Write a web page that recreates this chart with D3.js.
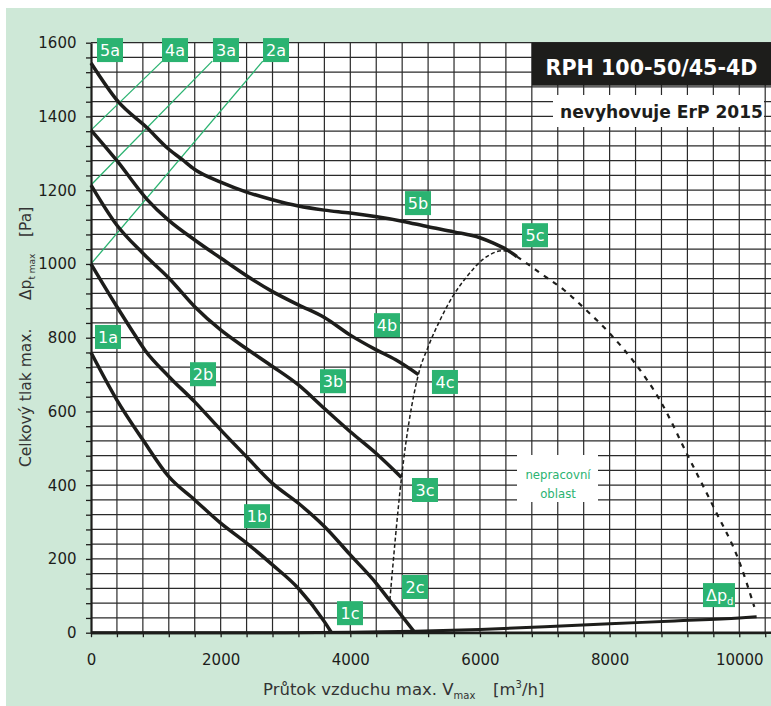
<!DOCTYPE html>
<html><head><meta charset="utf-8">
<script src="https://cdn.jsdelivr.net/npm/d3@7"></script>
<style>body{margin:0;background:#fff}svg{display:block}</style>
</head><body><svg id="c" width="771" height="706"></svg>
<script>
// ---- data ----
const xTicks=[0,2000,4000,6000,8000,10000];
const yTicks=[0,200,400,600,800,1000,1200,1400,1600];
const curve1=[[0,760],[400,631],[800,523],[1200,423],[1600,360],[2000,297],[2400,243],[2800,184],[3200,120],[3600,30],[3710,0]];
const curve2=[[0,1000],[400,884],[627,821],[833,766],[1200,695],[1600,626],[2000,550],[2400,477],[2800,405],[3200,351],[3600,288],[4000,211],[4400,134],[4600,89],[4980,4]];
const curve3=[[0,1214],[400,1105],[800,1029],[1200,962],[1600,884],[2000,821],[2400,770],[2800,722],[3200,672],[3600,608],[4000,545],[4400,486],[4790,421]];
const curve4=[[0,1363],[400,1280],[860,1176],[1200,1118],[1600,1065],[2000,1016],[2400,968],[2800,925],[3200,889],[3600,855],[4000,807],[4400,767],[4700,740],[5050,700]];
const curve5=[[0,1545],[420,1440],[860,1370],[1200,1311],[1400,1284],[1600,1256],[2000,1222],[2400,1195],[2800,1174],[3200,1157],[3600,1146],[4000,1138],[4800,1116],[5200,1101],[5600,1087],[6000,1071],[6200,1057],[6400,1040],[6570,1020]];
const limitLeft=[[4610,89],[4790,421],[5050,700],[5200,775],[5385,848],[5590,915],[5795,965],[6051,1013],[6358,1036],[6570,1020]];
const limitRight=[[6570,1020],[6774,995],[6930,975],[7292,930],[7620,878],[8000,812],[8390,731],[8775,631],[9215,477],[9600,342],[10010,188],[10232,70]];
const dynPressure=[[0,0],[3000,0],[4000,1],[5000,4],[6000,9],[7000,16],[8000,24],[9000,32],[10000,40],[10268,43]];
const sys4a=[[0,1363],[1100,1550]];
const sys3a=[[0,1214],[1870,1550]];
const sys2a=[[0,1000],[2650,1550]];
const labelNames=["5a","4a","3a","2a","1a","5b","5c","4b","4c","3b","3c","2b","2c","1b","1c"];
const labelAt=[[293,1580],[1296,1580],[2082,1580],[2854,1580],[262,802],[5044,1165],[6849,1078],[4566,834],[5460,680],[3733,682],[5152,387],[1728,701],[4998,124],[2561,316],[3995,53]];
const dpLabelAt=[9687,102];
const titleText="RPH 100-50/45-4D";
const subText="nevyhovuje ErP 2015";
const regionText=["nepracovní","oblast"];

// ---- drawing ----
const svg=d3.select("#c");
const x=d3.scaleLinear().domain([0,10400]).range([91,765.2]);
const y=d3.scaleLinear().domain([0,1600]).range([632.7,42.7]);
const GREEN="#2bb371", INK="#1d1d1b";

svg.append("rect").attr("x",6).attr("y",8).attr("width",765).attr("height",698).attr("fill","#cee8d7");
svg.append("rect").attr("x",x(0)).attr("y",y(1600)).attr("width",771-x(0)).attr("height",y(0)-y(1600)).attr("fill","#fff");

const grid=svg.append("g").attr("stroke","#2a2a2a").attr("stroke-width",1.2);
grid.selectAll("line.v").data(d3.range(400,10401,400)).join("line")
  .attr("x1",d=>x(d)).attr("x2",d=>x(d)).attr("y1",y(1600)).attr("y2",y(0));
grid.selectAll("line.h").data(d3.range(40,1601,40)).join("line")
  .attr("x1",x(0)).attr("x2",771).attr("y1",d=>y(d)).attr("y2",d=>y(d));

// boxes
svg.append("rect").attr("x",532).attr("y",y(1600)).attr("width",239).attr("height",43).attr("fill","#1d1d1b");
svg.append("text").attr("x",545.5).attr("y",75).attr("fill","#fff")
  .attr("font-family","DejaVu Sans").attr("font-weight","bold").attr("font-size",20.5)
  .attr("textLength",212).attr("lengthAdjust","spacingAndGlyphs").text(titleText);
svg.append("rect").attr("x",553).attr("y",95).attr("width",211).attr("height",32).attr("fill","#fff");
svg.append("text").attr("x",560).attr("y",118).attr("fill",INK)
  .attr("font-family","DejaVu Sans").attr("font-weight","bold").attr("font-size",17)
  .attr("textLength",203).attr("lengthAdjust","spacingAndGlyphs").text(subText);
svg.append("rect").attr("x",517).attr("y",455).attr("width",81).attr("height",47).attr("fill","#fff");
svg.selectAll("text.reg").data(regionText).join("text").attr("class","reg")
  .attr("x",558).attr("y",(d,i)=>479+i*19).attr("text-anchor","middle")
  .attr("font-family","DejaVu Sans Condensed").attr("font-size",13).attr("fill",GREEN).text(d=>d);

// system lines
const line=d3.line().x(d=>x(d[0])).y(d=>y(d[1]));
[sys4a,sys3a,sys2a].forEach(s=>svg.append("path").attr("d",line(s)).attr("fill","none").attr("stroke",GREEN).attr("stroke-width",1.3));

// curves
const smooth=d3.line().x(d=>x(d[0])).y(d=>y(d[1])).curve(d3.curveMonotoneX);
svg.append("path").attr("d",smooth(limitLeft)).attr("fill","none").attr("stroke",INK).attr("stroke-width",1.5).attr("stroke-dasharray","4,2.5");
svg.append("path").attr("d",smooth(limitRight)).attr("fill","none").attr("stroke",INK).attr("stroke-width",2.2).attr("stroke-dasharray","5,6");
[curve1,curve2,curve3,curve4,curve5].forEach(c=>svg.append("path").attr("d",smooth(c)).attr("fill","none")
  .attr("stroke",INK).attr("stroke-width",3.5).attr("stroke-linejoin","round"));
svg.append("path").attr("d",smooth(dynPressure)).attr("fill","none").attr("stroke",INK).attr("stroke-width",3);

// axes
const ax=svg.append("g").attr("transform",`translate(${x(0)},0)`)
  .call(d3.axisLeft(y).tickValues(d3.range(0,1601,40)).tickSize(5).tickSizeOuter(0).tickPadding(9.5)
    .tickFormat(d=>yTicks.includes(d)?d:""));
const bx=svg.append("g").attr("transform",`translate(0,${y(0)})`)
  .call(d3.axisBottom(x).tickValues(d3.range(0,10401,400)).tickSize(4.5).tickSizeOuter(0).tickPadding(17.5)
    .tickFormat(d=>xTicks.includes(d)?d:""));
[ax,bx].forEach(g=>{g.selectAll("text").attr("font-family","DejaVu Sans").attr("font-size",15).attr("fill",INK);
  g.selectAll("line").attr("stroke",INK).attr("stroke-width",1.3);
  g.select(".domain").attr("stroke",INK).attr("stroke-width",2.2);});
svg.append("line").attr("x1",x(0)).attr("x2",771).attr("y1",y(0)).attr("y2",y(0)).attr("stroke",INK).attr("stroke-width",2.6);

// labels
const lab=svg.selectAll("g.lab").data(labelNames).join("g").attr("class","lab")
  .attr("transform",(d,i)=>`translate(${x(labelAt[i][0])},${y(labelAt[i][1])})`);
lab.append("rect").attr("x",-13).attr("y",-12).attr("width",26).attr("height",24).attr("fill",GREEN);
lab.append("text").attr("text-anchor","middle").attr("dy","0.36em").attr("fill","#fff")
  .attr("font-family","DejaVu Sans").attr("font-size",16).text(d=>d);
const dp=svg.append("g").attr("transform",`translate(${x(dpLabelAt[0])},${y(dpLabelAt[1])})`);
dp.append("rect").attr("x",-16).attr("y",-12).attr("width",32).attr("height",24).attr("fill",GREEN);
const dpt=dp.append("text").attr("x",-13).attr("dy","0.36em").attr("fill","#fff").attr("font-family","DejaVu Sans").attr("font-size",16);
dpt.append("tspan").text("Δp");
dpt.append("tspan").attr("font-size",10).attr("dy",4).text("d");

// axis titles
const xt=svg.append("text").attr("x",263).attr("y",695).attr("fill","#333").attr("font-family","DejaVu Sans").attr("font-size",16.5);
xt.append("tspan").text("Průtok vzduchu max. V");
xt.append("tspan").attr("font-size",10).attr("dy",4).text("max");
svg.append("text").attr("x",493).attr("y",695).attr("fill","#333").attr("font-family","DejaVu Sans").attr("font-size",16.5)
  .html('[m<tspan font-size="10" dy="-7">3</tspan><tspan dy="7">/h]</tspan>');
const yt=svg.append("g").attr("transform","translate(31,0) rotate(-90)").attr("fill","#333").attr("font-family","DejaVu Sans").attr("font-size",15.5);
yt.append("text").attr("x",-467).attr("y",0).text("Celkový tlak max.");
const ydp=yt.append("text").attr("x",-300).attr("y",0);
ydp.append("tspan").text("Δp");
ydp.append("tspan").attr("font-size",9).attr("dy",4).text("t max");
yt.append("text").attr("x",-237).attr("y",0).text("[Pa]");
</script></body></html>
